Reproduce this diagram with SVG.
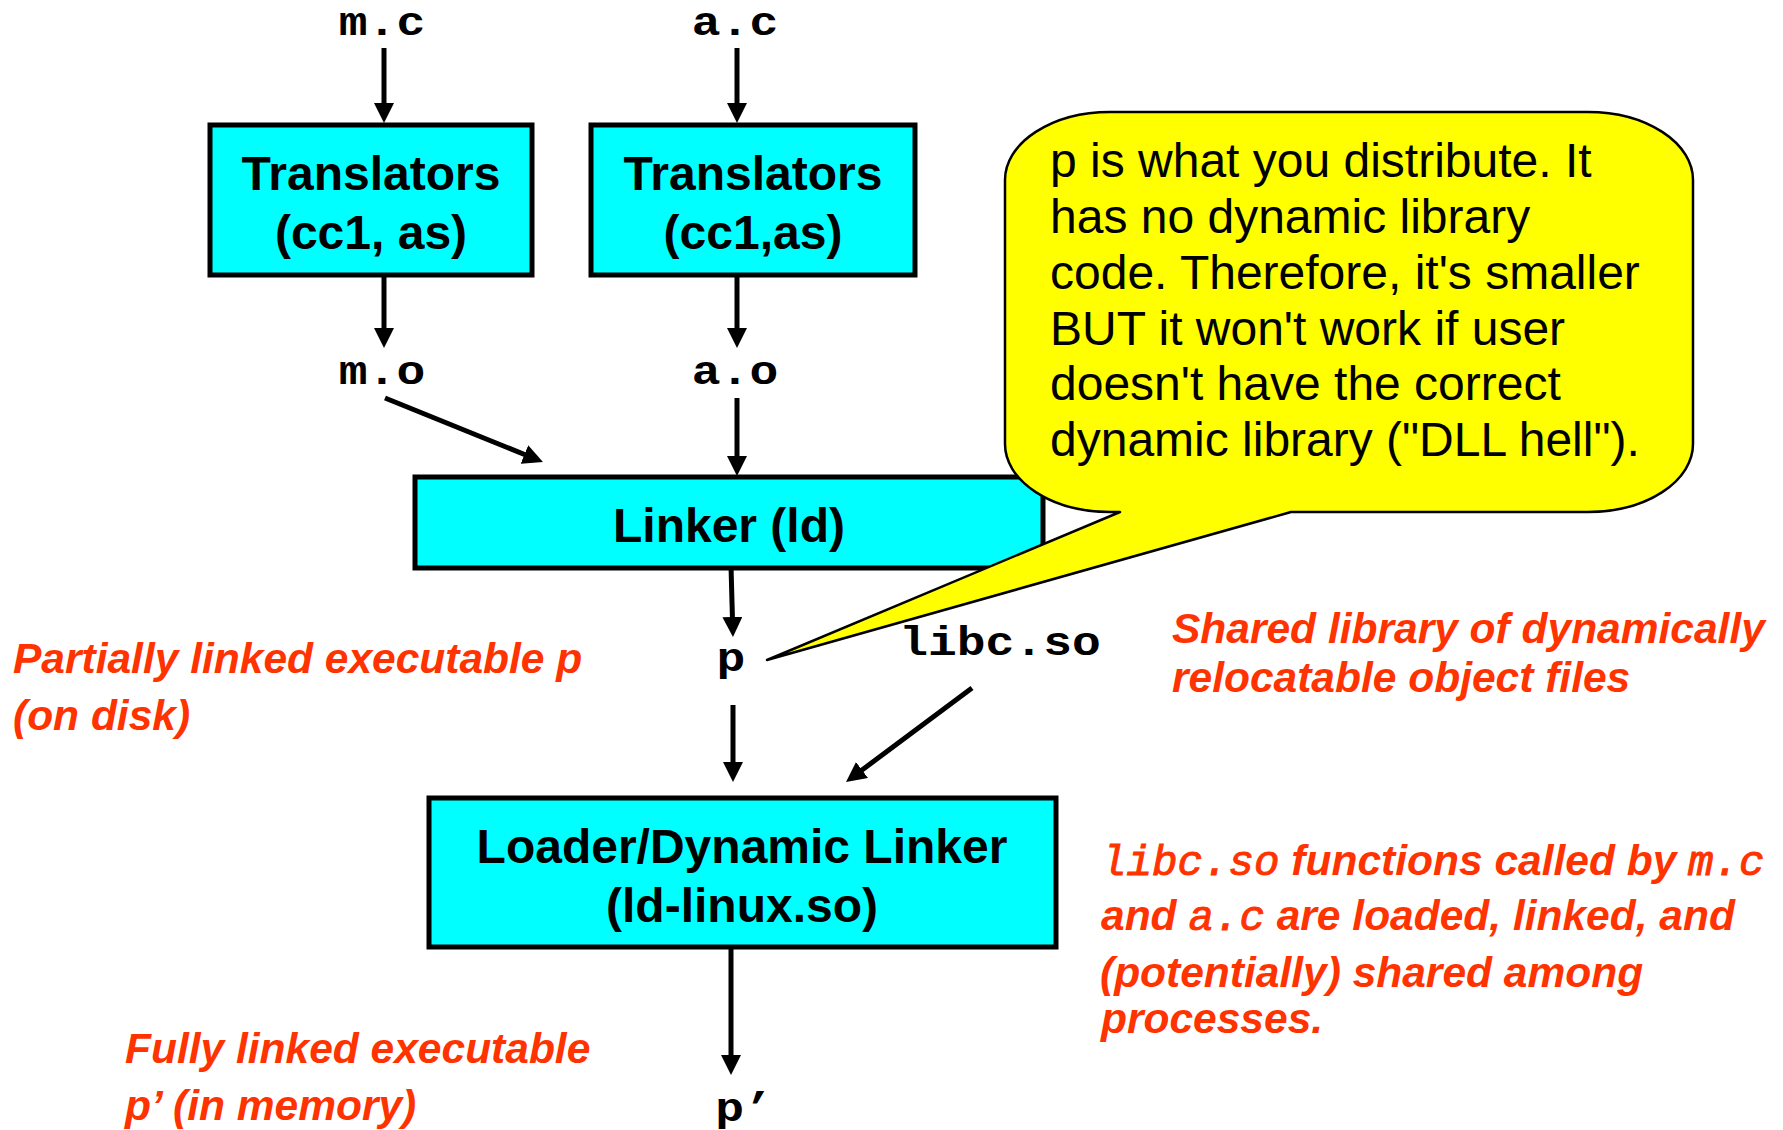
<svg xmlns="http://www.w3.org/2000/svg" width="1783" height="1130" viewBox="0 0 1783 1130">
  <style>
    .box { fill: #00FFFF; stroke: #000; stroke-width: 5; }
    .boxlabel { font-family: "Liberation Sans", Arial, Helvetica, sans-serif; font-weight: bold; font-size: 48px; fill: #000; text-anchor: middle; }
    .file { font-family: "Liberation Mono", "Courier New", monospace; font-weight: bold; font-size: 48px; fill: #000; text-anchor: middle; }
    .note { font-family: "Liberation Sans", Arial, Helvetica, sans-serif; font-weight: bold; font-style: italic; font-size: 42.5px; fill: #FF3300; }
    .code { font-family: "Liberation Mono", "Courier New", monospace; font-weight: normal; font-style: italic; stroke: #FF3300; stroke-width: 1; }
    .bubble { fill: #FFFF00; stroke: #000; stroke-width: 2.5; stroke-linejoin: round; }
    .bubbletext { font-family: "Liberation Sans", Arial, Helvetica, sans-serif; font-size: 48px; fill: #000; }
    .arrow { stroke: #000; stroke-width: 5; fill: none; marker-end: url(#head); }
  </style>
  <defs>
    <!-- solid triangular arrowhead; its tip sits 10px beyond the line end -->
    <marker id="head" markerUnits="userSpaceOnUse" viewBox="0 0 20 20" refX="10" refY="10" markerWidth="20" markerHeight="20" orient="auto">
      <path d="M0,0 L20,10 L0,20 z" fill="#000"/>
    </marker>
  </defs>

  <rect width="1783" height="1130" fill="#fff"/>

  <!-- source and object file names (slightly flattened to Courier proportions) -->
  <g id="file-mc"><text class="file" transform="translate(382,35) scale(1,0.85)">m.c</text></g>
  <g id="file-ac"><text class="file" transform="translate(735,35) scale(1,0.85)">a.c</text></g>
  <g id="file-mo"><text class="file" transform="translate(382,384) scale(1,0.85)">m.o</text></g>
  <g id="file-ao"><text class="file" transform="translate(735,384) scale(1,0.85)">a.o</text></g>
  <g id="file-p"><text class="file" transform="translate(731,671) scale(1,0.85)">p</text></g>
  <g id="file-libc"><text class="file" transform="translate(1000,655) scale(1,0.85)">libc.so</text></g>
  <g id="file-pprime"><text class="file" transform="translate(744,1121) scale(1,0.85)">p’</text></g>

  <!-- tool boxes -->
  <g id="translators-m">
    <rect class="box" x="210" y="125" width="322" height="150"/>
    <text class="boxlabel" x="371" y="190">Translators</text>
    <text class="boxlabel" x="371" y="249">(cc1, as)</text>
  </g>
  <g id="translators-a">
    <rect class="box" x="591" y="125" width="324" height="150"/>
    <text class="boxlabel" x="753" y="190">Translators</text>
    <text class="boxlabel" x="753" y="249">(cc1,as)</text>
  </g>
  <g id="linker">
    <rect class="box" x="415" y="477" width="628" height="91"/>
    <text class="boxlabel" x="729" y="542">Linker (ld)</text>
  </g>
  <g id="loader">
    <rect class="box" x="429" y="798" width="627" height="149"/>
    <text class="boxlabel" x="742" y="863">Loader/Dynamic Linker</text>
    <text class="boxlabel" x="742" y="922">(ld-linux.so)</text>
  </g>

  <!-- connectors -->
  <g id="connectors">
    <line class="arrow" x1="384" y1="48" x2="384" y2="113"/>
    <line class="arrow" x1="737" y1="48" x2="737" y2="113"/>
    <line class="arrow" x1="384" y1="277" x2="384" y2="338"/>
    <line class="arrow" x1="737" y1="277" x2="737" y2="338"/>
    <line class="arrow" x1="385" y1="398" x2="533.7" y2="458.2"/>
    <line class="arrow" x1="737" y1="398" x2="737" y2="466"/>
    <line class="arrow" x1="731" y1="566" x2="732.7" y2="627"/>
    <line class="arrow" x1="733" y1="705" x2="733" y2="772"/>
    <line class="arrow" x1="972" y1="688" x2="854" y2="776"/>
    <line class="arrow" x1="731" y1="947" x2="731" y2="1065"/>
  </g>

  <!-- speech bubble pointing at p -->
  <g id="callout">
    <path class="bubble" d="M1110,112 H1588 A105,68 0 0 1 1693,180 V444 A105,68 0 0 1 1588,512 H1291 L767,660 L1120,512 H1110 A105,68 0 0 1 1005,444 V180 A105,68 0 0 1 1110,112 Z"/>
    <text class="bubbletext" x="1050" y="177">p is what you distribute. It</text>
    <text class="bubbletext" x="1050" y="233">has no dynamic library</text>
    <text class="bubbletext" x="1050" y="289">code. Therefore, it's smaller</text>
    <text class="bubbletext" x="1050" y="345">BUT it won't work if user</text>
    <text class="bubbletext" x="1050" y="400">doesn't have the correct</text>
    <text class="bubbletext" x="1050" y="456">dynamic library ("DLL hell").</text>
  </g>

  <!-- annotations -->
  <g id="note-partial">
    <text class="note" x="13" y="673">Partially linked executable p</text>
    <text class="note" x="13" y="730">(on disk)</text>
  </g>
  <g id="note-shared">
    <text class="note" x="1172" y="643">Shared library of dynamically</text>
    <text class="note" x="1172" y="692">relocatable object files</text>
  </g>
  <g id="note-functions">
    <text class="note" x="1101" y="875"><tspan class="code">libc.so</tspan> functions called by <tspan class="code">m.c</tspan></text>
    <text class="note" x="1101" y="930">and <tspan class="code">a.c</tspan> are loaded, linked, and</text>
    <text class="note" x="1100" y="987">(potentially) shared among</text>
    <text class="note" x="1101" y="1033">processes.</text>
  </g>
  <g id="note-full">
    <text class="note" x="125" y="1063">Fully linked executable</text>
    <text class="note" x="125" y="1120">p’ (in memory)</text>
  </g>
</svg>
